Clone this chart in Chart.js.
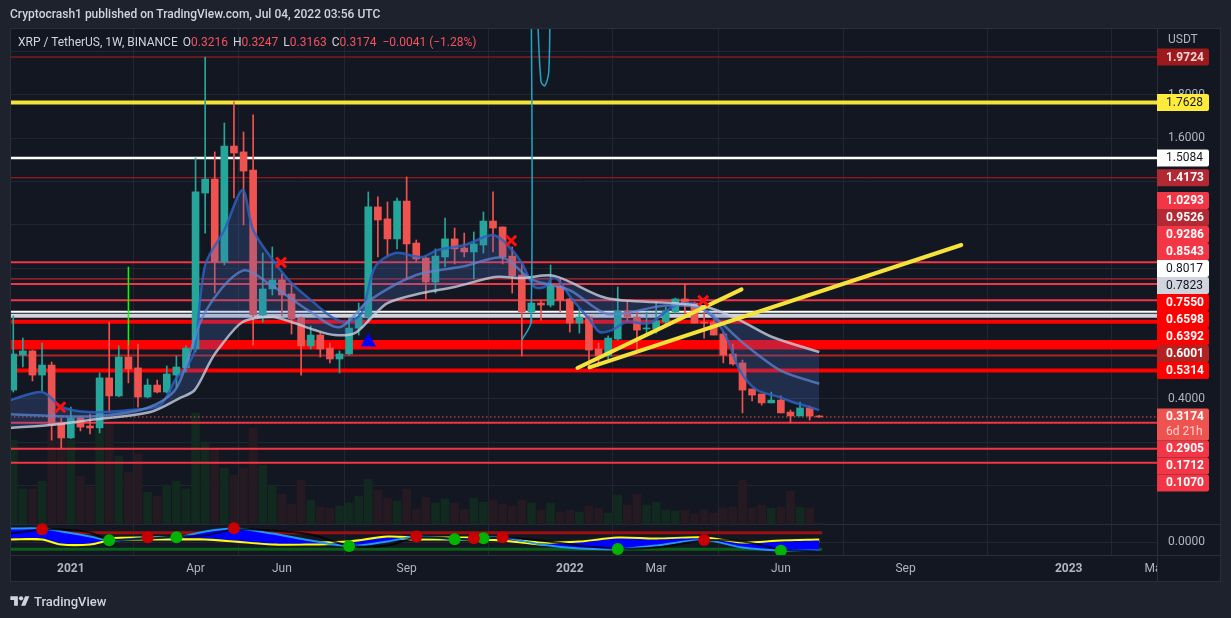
<!DOCTYPE html>
<html>
<head>
<meta charset="utf-8">
<title>XRP / TetherUS 1W</title>
<script src="https://cdn.jsdelivr.net/npm/chart.js@4.4.1/dist/chart.umd.min.js"></script>
<style>
    html, body { margin: 0; padding: 0; background: #1e222d; }
    #wrap { position: relative; width: 1231px; height: 618px; overflow: hidden; font-family: Roboto, "Noto Sans", sans-serif; }
    #chart { position: absolute; left: 0; top: 0; }
    .hdr { position: absolute; left: 10px; top: 6px; font-size: 12px; line-height: 16px; color: #d1d4dc; font-weight: 500; }
    .legend { position: absolute; left: 18px; top: 34px; font-size: 12px; line-height: 16px; color: #d1d4dc; white-space: nowrap; }
    .legend span { margin-left: 5px; }
    .legend .v { color: #f7525f; margin-left: 0; }
    .footer { position: absolute; left: 10px; top: 592px; height: 18px; display: flex; align-items: center; color: #d1d4dc; font-size: 13px; font-weight: 500; }
    .footer svg { width: 20px; height: 15px; margin-right: 4px; fill: #d1d4dc; }
</style>
</head>
<body>
<div id="wrap">
    <canvas id="chart" width="1231" height="618"></canvas>
    <div class="hdr">Cryptocrash1 published on TradingView.com, Jul 04, 2022 03:56 UTC</div>
    <div class="legend" id="legend"></div>
    <div class="footer">
        <svg viewBox="0 0 36 28"><path d="M14 22H7V11H0V4h14v18zM28 22h-8l7.5-18h8L28 22z"/><circle cx="20" cy="8" r="4"/></svg>
        TradingView
    </div>
</div>
<script>
// Weekly candles, bar 0 = week of 2020-11-23, last bar = week of 2022-07-04
const firstWeek = '2020-11-23';
const open  = [0.441,0.602,0.621,0.510,0.556,0.290,0.221,0.313,0.276,0.267,0.497,0.414,0.593,0.543,0.409,0.464,0.432,0.510,0.543,0.630,
               1.347,1.411,1.030,1.563,1.536,1.453,0.786,0.906,0.947,0.883,0.772,0.644,0.694,0.634,0.584,0.607,0.726,0.777,1.283,1.228,
               1.136,1.310,1.117,1.048,0.938,1.053,1.136,1.094,1.076,1.108,1.218,1.191,1.057,0.970,0.800,0.841,0.832,0.920,0.860,0.749,
               0.777,0.630,0.598,0.676,0.805,0.777,0.722,0.722,0.754,0.800,0.860,0.841,0.754,0.754,0.699,0.607,0.566,0.446,0.423,0.382,
               0.395,0.340,0.322,0.359,0.3216];
const high  = [0.782,0.680,0.625,0.657,0.570,0.313,0.363,0.318,0.331,0.520,0.754,0.644,0.648,0.653,0.492,0.487,0.552,0.598,0.644,1.508,
               1.972,1.536,1.669,1.766,1.628,1.706,1.071,1.099,0.975,0.933,0.777,0.736,0.703,0.657,0.621,0.772,0.841,1.352,1.329,1.306,
               1.324,1.421,1.131,1.053,1.090,1.232,1.186,1.163,1.168,1.260,1.352,1.191,1.099,1.025,0.846,0.851,1.016,0.956,0.864,0.818,
               0.782,0.657,0.690,0.915,0.851,0.800,0.800,0.846,0.823,0.864,0.929,0.846,0.800,0.786,0.708,0.653,0.579,0.446,0.423,0.432,
               0.414,0.349,0.386,0.368,0.3247];
const low   = [0.432,0.547,0.483,0.437,0.211,0.175,0.219,0.253,0.239,0.244,0.340,0.410,0.474,0.363,0.405,0.428,0.428,0.455,0.524,0.616,
               1.163,0.887,1.016,1.324,1.200,0.648,0.754,0.878,0.782,0.699,0.510,0.630,0.593,0.566,0.520,0.602,0.694,0.754,1.053,1.057,
               1.090,0.952,1.030,0.860,0.887,1.007,1.021,1.053,0.952,1.071,1.076,1.021,0.887,0.598,0.749,0.763,0.823,0.800,0.708,0.703,
               0.543,0.552,0.584,0.671,0.754,0.621,0.703,0.703,0.745,0.795,0.786,0.749,0.680,0.694,0.566,0.556,0.336,0.391,0.372,0.382,
               0.336,0.290,0.322,0.303,0.3163];
const close = [0.607,0.621,0.510,0.556,0.280,0.221,0.313,0.271,0.267,0.497,0.414,0.593,0.538,0.409,0.464,0.432,0.515,0.547,0.634,1.352,
               1.411,1.030,1.563,1.531,1.448,0.786,0.906,0.947,0.878,0.768,0.644,0.694,0.630,0.584,0.607,0.726,0.777,1.283,1.223,1.136,
               1.310,1.113,1.044,0.938,1.057,1.136,1.090,1.076,1.113,1.218,1.186,1.053,0.966,0.800,0.841,0.832,0.920,0.855,0.749,0.777,
               0.625,0.598,0.680,0.805,0.777,0.717,0.726,0.759,0.805,0.860,0.841,0.749,0.749,0.694,0.602,0.561,0.441,0.418,0.382,0.395,
               0.336,0.322,0.359,0.3215,0.3174];
// weekly volume, millions of XRP
const volume = [3360,1400,1400,1720,3760,3960,3360,1920,1480,3760,4040,2720,2080,2800,1280,1120,1560,1720,1400,4440,
                3280,2960,2240,1960,2240,3840,2360,1560,1200,800,1760,960,680,640,720,840,1120,1800,1360,1040,
                920,1400,600,1080,840,1000,840,600,1040,880,960,800,720,960,840,560,840,480,560,480,
                720,640,440,1160,760,1200,760,880,560,520,560,400,560,440,640,680,1760,640,760,640,
                680,1320,680,640,40];

// Time axis: bar index of the first weekly bar of each labelled month
const tickBars   = [6, 19, 28, 41, 58, 67, 80, 93, 110, 119];
const tickLabels = ['2021', 'Apr', 'Jun', 'Sep', '2022', 'Mar', 'Jun', 'Sep', '2023', 'Mar'];
const priceTicks = [0, 0.2, 0.4, 0.6, 0.8, 1.0, 1.2, 1.4, 1.6, 1.8, 2.0];

// Horizontal levels drawn by the author
const levels = [1.9724, 1.7628, 1.5084, 1.4173, 1.0293, 0.9526, 0.9286, 0.8543, 0.8017,
                0.7823, 0.7550, 0.6598, 0.6392, 0.6001, 0.5314, 0.2905, 0.1712, 0.1070];
const countdown = '6d 21h';

// EMA ribbon edges [bar, price]
const ribbonFast = [[-0.3,0.395],[3,0.432],[5.1,0.363],[8,0.340],[12.2,0.349],[15.3,0.372],[17,0.497],[18,0.543],[18.9,0.625],
    [20,1.016],[22,1.177],[23.9,1.361],[25,1.177],[27.3,1.025],[29,0.933],[31.4,0.841],[33.2,0.777],[34.9,0.754],[36.3,0.795],
    [37.7,1.007],[39.8,1.071],[42.6,1.053],[44.2,1.085],[47,1.108],[49.9,1.154],[51.2,1.122],[53,1.025],[54.3,0.915],[55.4,0.915],
    [56.4,0.961],[58.3,0.855],[60.1,0.763],[61.1,0.708],[62.4,0.717],[63.9,0.754],[66.3,0.749],[68.7,0.823],[70.5,0.841],
    [71.5,0.823],[72.9,0.777],[74.3,0.685],[75.7,0.533],[77.5,0.441],[79.8,0.409],[81.2,0.386],[84,0.349]];
const ribbonMid = [[-0.3,0.33],[8,0.32],[14,0.36],[17,0.45],[20,0.80],[23.9,0.99],[27,0.92],[31,0.80],[34,0.73],[37,0.85],
    [42,0.97],[47,1.01],[51,1.05],[54,0.95],[58,0.90],[62,0.79],[68,0.83],[72,0.81],[76,0.66],[80,0.53],[84,0.47]];
const ribbonSlow = [[-0.3,0.267],[3.8,0.280],[8,0.303],[14.3,0.340],[17.4,0.405],[18.9,0.441],[20.5,0.570],[21.3,0.625],
    [23.9,0.754],[27,0.777],[29,0.754],[31.4,0.717],[33.5,0.694],[35.6,0.703],[37.4,0.777],[39,0.841],[42.6,0.887],[46,0.915],
    [50.2,0.961],[53,0.956],[56.4,0.966],[61.8,0.864],[68.7,0.841],[72.3,0.823],[75.7,0.763],[79.1,0.685],[84,0.616]];

// Drawings and signals [bar, price]
const trendA = [[58.8,0.5425],[75.9,0.904]];
const trendB = [[60.05,0.545],[98.8,1.108]];
const sellMarks = [[4.9,0.362],[27.9,1.028],[51.9,1.128],[71.9,0.852]];
const buyMarks  = [[37,0.662]];
const greenSpike = [[12,1.008],[12,0.648]];
const cyanSpike  = [[53,0.671],[53.96,0.755],[53.98,2.4],[54.3,null],[54.6,2.2],[55.0,1.86],[55.4,1.84],[55.8,1.9],[55.95,2.2]];

// Oscillator pane
const oscBars   = [-0.3, 3, 5, 8, 10, 14, 17, 20, 23, 27, 31, 35, 39, 42, 46, 48, 51, 55, 59, 63, 67, 72, 76, 80, 84];
const oscWave   = [13, 13, 10, 5, 1, 4, 4, 10, 13, 8, 1, -4.5, 0, 5, 2, 3, 4, -3, -7, -7.5, -4, 1.5, -6, -9, -9];
const oscSignal = [3, 3, -2, -2, 2, 3, 3, 3, 1, -2, -2, -1, 4, 3, 3, 3, 2, -2, -1, 3, 2, 3, -2, 0, 1];
const oscSlow   = [8, 12, 12, 9, 2, 3, 5, 6, 12, 11, 7, -4, -4, 4, 3, 2, 4, 1, -4, -7, -6, 1, 0, -8, -10];
const oscUpper = 8.8;
const oscLower = -7.8;
const oscRedDots   = [[3,12.2],[14,4.2],[23,13.2],[42,5],[48,3.2],[51,4.2],[72,1.5]];
const oscGreenDots = [[10,1.2],[17,4.2],[35,-4.5],[46,2.2],[49,3.2],[63,-7.5],[80,-9.2]];

// Colors
const upColor = '#26a69a';
const downColor = '#ef5350';
const bg = '#131722';
const frameBg = '#1e222d';
const gridColor = '#222632';
const lineColor = '#2a2e39';
const axisText = '#b2b5be';

const levelStyle = [
    { line: '#b71c1c', w: 1,   box: '#9c1a1d', text: '#f3d6d6' },
    { line: '#f5e33b', w: 4,   box: '#ffeb3b', text: '#131722' },
    { line: '#ffffff', w: 2.5, box: '#ffffff', text: '#131722' },
    { line: '#b71c1c', w: 1,   box: '#b22833', text: '#ffffff' },
    { line: '#f23645', w: 2,   box: '#f23645', text: '#ffffff' },
    { line: '#b22833', w: 1.2, box: '#b22833', text: '#ffffff' },
    { line: '#f23645', w: 2,   box: '#f23645', text: '#ffffff' },
    { line: '#f23645', w: 2,   box: '#f23645', text: '#ffffff' },
    { line: '#ffffff', w: 2,   box: '#ffffff', text: '#131722' },
    { line: '#d1d4dc', w: 4,   box: '#d1d4dc', text: '#131722' },
    { line: '#ff0000', w: 4,   box: '#ff0000', text: '#ffffff' },
    { line: '#ff0000', w: 5,   box: '#ff0000', text: '#ffffff' },
    { line: '#ff0000', w: 5,   box: '#ff0000', text: '#ffffff' },
    { line: '#b22222', w: 2,   box: '#b22222', text: '#ffffff' },
    { line: '#ff0000', w: 4,   box: '#ff0000', text: '#ffffff' },
    { line: '#f23645', w: 2,   box: '#f23645', text: '#ffffff' },
    { line: '#f23645', w: 2,   box: '#f23645', text: '#ffffff' },
    { line: '#f23645', w: 2,   box: '#f23645', text: '#ffffff' }
];

const xMin = -0.34, xMax = 119.2;
const last = close.length - 1;
const isUp = close.map((c, i) => c >= open[i]);
const pts = arr => arr.map(p => ({ x: p[0], y: p[1] }));

// Legend line from the last bar
(function () {
    const f = v => v.toFixed(4);
    const chg = close[last] - close[last - 1];
    const pct = chg / close[last - 1] * 100;
    const sign = chg < 0 ? '\u2212' : '+';
    document.getElementById('legend').innerHTML =
        'XRP / TetherUS, 1W, BINANCE' +
        '<span>O<b class="v" style="font-weight:400">' + f(open[last]) + '</b></span>' +
        '<span>H<b class="v" style="font-weight:400">' + f(high[last]) + '</b></span>' +
        '<span>L<b class="v" style="font-weight:400">' + f(low[last]) + '</b></span>' +
        '<span>C<b class="v" style="font-weight:400">' + f(close[last]) + '</b></span>' +
        '<span class="v" style="margin-left:6px">' + sign + Math.abs(chg).toFixed(4) + ' (' + sign + Math.abs(pct).toFixed(2) + '%)</span>';
})();

// Stack the price labels on the right axis so they do not overlap
function layoutLabels(yScale) {
    const cur = close[last];
    const curY = yScale.getPixelForValue(cur);
    const H = 17, curH = 32;
    const items = levels.map((v, i) => ({ v: v, i: i, y: yScale.getPixelForValue(v) }));
    const above = items.filter(d => d.v > cur).sort((a, b) => a.v - b.v);
    let edge = curY - H / 2;
    above.forEach(d => { d.y = Math.min(d.y, edge - H / 2); edge = d.y - H / 2; });
    const below = items.filter(d => d.v < cur).sort((a, b) => b.v - a.v);
    edge = curY - H / 2 + curH;
    below.forEach(d => { d.y = Math.max(d.y, edge + H / 2); edge = d.y + H / 2; });
    return { items: items, curY: curY, H: H, curH: curH };
}

function roundBox(ctx, x, y, w, h, r) {
    ctx.beginPath();
    ctx.moveTo(x, y);
    ctx.lineTo(x + w - r, y);
    ctx.quadraticCurveTo(x + w, y, x + w, y + r);
    ctx.lineTo(x + w, y + h - r);
    ctx.quadraticCurveTo(x + w, y + h, x + w - r, y + h);
    ctx.lineTo(x, y + h);
    ctx.closePath();
    ctx.fill();
}

const panelPlugin = {
    id: 'panel',
    beforeDraw(chart) {
        const { ctx, chartArea } = chart;
        const ys = chart.scales.y, xs = chart.scales.x;
        ctx.save();
        ctx.fillStyle = frameBg;
        ctx.fillRect(0, 0, chart.width, chart.height);
        ctx.fillStyle = bg;
        ctx.fillRect(chartArea.left, chartArea.top, ys.right - chartArea.left, xs.bottom - chartArea.top);
        ctx.restore();
    },
    beforeDatasetsDraw(chart) {
        const { ctx, chartArea } = chart;
        const ys = chart.scales.y;
        const zero = Math.round(chart.scales.osc.getPixelForValue(0)) + 0.5;
        const pane = Math.round(chart.scales.vol.getPixelForValue(0)) + 0.5;
        ctx.save();
        ctx.lineWidth = 1;
        ctx.strokeStyle = gridColor;
        ctx.beginPath(); ctx.moveTo(chartArea.left, zero); ctx.lineTo(chartArea.right, zero); ctx.stroke();
        ctx.strokeStyle = lineColor;
        ctx.beginPath(); ctx.moveTo(chartArea.left, pane); ctx.lineTo(ys.right, pane); ctx.stroke();
        ctx.restore();
    },
    afterDraw(chart) {
        const { ctx, chartArea } = chart;
        const ys = chart.scales.y, xs = chart.scales.x;
        const axL = ys.left, axR = ys.right;
        ctx.save();

        // axis corner (clips the last month label like the original)
        ctx.fillStyle = bg;
        ctx.fillRect(axL, xs.top, axR - axL, xs.bottom - xs.top);

        // frame and separators
        ctx.strokeStyle = lineColor;
        ctx.lineWidth = 1;
        ctx.strokeRect(chartArea.left + 0.5, chartArea.top + 0.5, axR - chartArea.left - 1, xs.bottom - chartArea.top - 1);
        ctx.beginPath();
        ctx.moveTo(axL + 0.5, chartArea.top); ctx.lineTo(axL + 0.5, xs.bottom);
        ctx.moveTo(chartArea.left, xs.top + 0.5); ctx.lineTo(axR, xs.top + 0.5);
        ctx.stroke();

        const lay = layoutLabels(ys);
        ctx.textBaseline = 'middle';
        ctx.textAlign = 'left';

        // price tick labels, hidden where a level label sits on them
        ctx.font = '12px Roboto, "Noto Sans", sans-serif';
        ctx.fillStyle = axisText;
        priceTicks.forEach(v => {
            const y = ys.getPixelForValue(v);
            const hit = lay.items.some(d => Math.abs(d.y - y) < 7.2) || Math.abs(lay.curY - y) < 7.2;
            if (!hit) ctx.fillText(v.toFixed(4), axL + 11, y);
        });
        ctx.fillText('USDT', axL + 11, chartArea.top + 12);
        ctx.fillText((0).toFixed(4), axL + 11, chart.scales.osc.getPixelForValue(0));

        // level labels
        const boxW = 52;
        lay.items.forEach(d => {
            const st = levelStyle[d.i];
            ctx.fillStyle = st.box;
            roundBox(ctx, axL, d.y - lay.H / 2, boxW, lay.H, 2);
            ctx.fillStyle = st.text;
            ctx.font = (st.text === '#131722' ? '' : 'bold ') + '12px Roboto, "Noto Sans", sans-serif';
            ctx.fillText(d.v.toFixed(4), axL + 9, d.y + 0.5);
        });

        // last price label with bar countdown
        ctx.fillStyle = downColor;
        roundBox(ctx, axL, lay.curY - lay.H / 2, boxW, lay.curH, 2);
        ctx.fillStyle = '#ffffff';
        ctx.font = 'bold 12px Roboto, "Noto Sans", sans-serif';
        ctx.fillText(close[last].toFixed(4), axL + 9, lay.curY + 0.5);
        ctx.fillStyle = '#fcd2d1';
        ctx.font = '12px Roboto, "Noto Sans", sans-serif';
        ctx.fillText(countdown, axL + 9, lay.curY + 15.5);
        ctx.restore();
    }
};

// Datasets
const datasets = [];

datasets.push({
    type: 'bar', label: 'Volume', yAxisID: 'vol', order: 100, grouped: false, barThickness: 8,
    data: volume.map((v, i) => ({ x: i, y: v })),
    backgroundColor: isUp.map(u => u ? '#12291f' : '#261a22')
});

levels.forEach((lv, i) => {
    datasets.push({
        type: 'line', label: 'level ' + lv, yAxisID: 'y', order: 90,
        data: [{ x: xMin, y: lv }, { x: xMax, y: lv }],
        borderColor: levelStyle[i].line, borderWidth: levelStyle[i].w, pointRadius: 0
    });
});

datasets.push({
    type: 'line', label: 'Last price', yAxisID: 'y', order: 89,
    data: [{ x: xMin, y: close[last] }, { x: xMax, y: close[last] }],
    borderColor: downColor, borderWidth: 1, borderDash: [1.5, 2.5], pointRadius: 0
});

// oscillator
datasets.push({
    type: 'line', label: 'osc upper', yAxisID: 'osc', order: 85,
    data: [{ x: xMin, y: oscUpper }, { x: last + 0.3, y: oscUpper }],
    borderColor: '#9b1010', borderWidth: 3, pointRadius: 0
});
datasets.push({
    type: 'line', label: 'osc lower', yAxisID: 'osc', order: 85,
    data: [{ x: xMin, y: oscLower }, { x: last + 0.3, y: oscLower }],
    borderColor: '#0b5e17', borderWidth: 3, pointRadius: 0
});
const signalIndex = datasets.length;
datasets.push({
    type: 'line', label: 'osc signal', yAxisID: 'osc', order: 82,
    data: oscBars.map((b, i) => ({ x: b, y: oscSignal[i] })),
    borderColor: '#ffff00', borderWidth: 4, pointRadius: 0, tension: 0.3
});
datasets.push({
    type: 'line', label: 'osc wave', yAxisID: 'osc', order: 81,
    data: oscBars.map((b, i) => ({ x: b, y: oscWave[i] })),
    borderColor: '#2196f3', borderWidth: 2, pointRadius: 0, tension: 0.3,
    fill: { target: signalIndex, above: '#0000ff', below: '#0000ff' }
});
datasets.push({
    type: 'line', label: 'osc slow', yAxisID: 'osc', order: 80,
    data: oscBars.map((b, i) => ({ x: b, y: oscSlow[i] })),
    borderColor: 'rgba(0,0,0,0.75)', borderWidth: 2, pointRadius: 0, tension: 0.3
});
datasets.push({
    type: 'line', label: 'osc sell', yAxisID: 'osc', order: 79, showLine: false,
    data: pts(oscRedDots), pointRadius: 6, pointBackgroundColor: '#c80000', pointBorderWidth: 0
});
datasets.push({
    type: 'line', label: 'osc buy', yAxisID: 'osc', order: 79, showLine: false,
    data: pts(oscGreenDots), pointRadius: 6, pointBackgroundColor: '#00b400', pointBorderWidth: 0
});

// candles
datasets.push({
    type: 'bar', label: 'Wicks', yAxisID: 'y', order: 50, grouped: false, barThickness: 1, minBarLength: 1,
    data: high.map((h, i) => ({ x: i, y: [low[i], h] })),
    backgroundColor: isUp.map(u => u ? upColor : downColor)
});
datasets.push({
    type: 'bar', label: 'Bodies', yAxisID: 'y', order: 40, grouped: false, barThickness: 7, minBarLength: 1,
    data: open.map((o, i) => ({ x: i, y: [o, close[i]] })),
    backgroundColor: isUp.map(u => u ? upColor : downColor)
});

// ribbon
const fastIndex = datasets.length;
datasets.push({
    type: 'line', label: 'ribbon fast', yAxisID: 'y', order: 30,
    data: pts(ribbonFast), borderColor: 'rgba(40,95,190,0.85)', borderWidth: 2.5, pointRadius: 0, tension: 0.3
});
datasets.push({
    type: 'line', label: 'ribbon mid', yAxisID: 'y', order: 29,
    data: pts(ribbonMid), borderColor: 'rgba(100,140,215,0.75)', borderWidth: 2.5, pointRadius: 0, tension: 0.3
});
datasets.push({
    type: 'line', label: 'ribbon slow', yAxisID: 'y', order: 28,
    data: pts(ribbonSlow), borderColor: 'rgba(200,208,222,0.8)', borderWidth: 2.5, pointRadius: 0, tension: 0.3,
    fill: { target: fastIndex, above: 'rgba(70,110,195,0.26)', below: 'rgba(70,110,195,0.26)' }
});

datasets.push({
    type: 'line', label: 'green spike', yAxisID: 'y', order: 25,
    data: pts(greenSpike), borderColor: '#00ff00', borderWidth: 1.5, pointRadius: 0
});
datasets.push({
    type: 'line', label: 'cyan spike', yAxisID: 'y', order: 25,
    data: pts(cyanSpike), borderColor: '#1ba8c6', borderWidth: 1.5, pointRadius: 0, tension: 0.3, spanGaps: false
});
[trendA, trendB].forEach((t, k) => {
    datasets.push({
        type: 'line', label: 'trend ' + k, yAxisID: 'y', order: 20,
        data: pts(t), borderColor: '#f5e33b', borderWidth: 4, borderCapStyle: 'round', pointRadius: 0
    });
});
datasets.push({
    type: 'line', label: 'sell', yAxisID: 'y', order: 10, showLine: false,
    data: pts(sellMarks), pointStyle: 'crossRot', pointRadius: 7, pointBorderWidth: 3, pointBorderColor: '#ff1010'
});
datasets.push({
    type: 'line', label: 'buy', yAxisID: 'y', order: 10, showLine: false,
    data: pts(buyMarks), pointStyle: 'triangle', pointRadius: 9, pointBackgroundColor: '#0000ff', pointBorderWidth: 0
});

const isYear = v => /^\d{4}$/.test(tickLabels[tickBars.indexOf(v)] || '');

new Chart(document.getElementById('chart').getContext('2d'), {
    type: 'bar',
    data: { datasets: datasets },
    plugins: [panelPlugin],
    options: {
        responsive: false,
        animation: false,
        events: [],
        layout: { padding: { left: 10, top: 28, right: 10, bottom: 36 } },
        plugins: { legend: { display: false }, tooltip: { enabled: false } },
        scales: {
            x: {
                type: 'linear', min: xMin, max: xMax, offset: false,
                afterBuildTicks: s => { s.ticks = tickBars.map(v => ({ value: v })); },
                afterFit: s => { s.height = 27; },
                grid: { color: gridColor, drawTicks: false },
                border: { display: false },
                ticks: {
                    autoSkip: false, maxRotation: 0, padding: 7, color: axisText,
                    font: ctx => ({ family: 'Roboto', size: 12, weight: ctx.tick && isYear(ctx.tick.value) ? 'bold' : 'normal' }),
                    callback: v => tickLabels[tickBars.indexOf(v)] || ''
                }
            },
            y: {
                type: 'linear', position: 'right', min: -0.31725, max: 2.10575,
                afterBuildTicks: s => { s.ticks = priceTicks.map(v => ({ value: v })); },
                afterFit: s => { s.width = 64; },
                grid: { color: gridColor, drawTicks: false },
                border: { display: false },
                ticks: { display: false }
            },
            vol: { type: 'linear', display: false, min: -1240, max: 19840 },
            osc: { type: 'linear', display: false, min: -13.5, max: 513.5 }
        }
    }
});
</script>
</body>
</html>
